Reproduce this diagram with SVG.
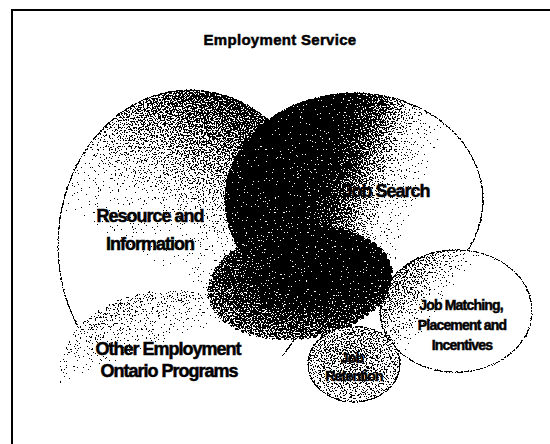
<svg xmlns="http://www.w3.org/2000/svg" width="550" height="444" viewBox="0 0 550 444">
  <defs>
    <style>
      .lbl { font-family: "Liberation Sans", Arial, sans-serif; font-weight: bold; fill: #000; stroke: #000; stroke-width: 0.5px; text-anchor: middle; }
      .big { font-size: 18px; letter-spacing: -1px; }
      .small { font-size: 14px; letter-spacing: -0.8px; }
      .edge { fill: none; stroke: #222; stroke-width: 1.2; }
    </style>
    <!-- shaded fills for the service areas -->
    <linearGradient id="gRes" x1="0.62" y1="0" x2="0.35" y2="0.55">
      <stop offset="0" stop-color="#404040"/>
      <stop offset="0.4" stop-color="#999"/>
      <stop offset="0.75" stop-color="#f4f4f4"/>
      <stop offset="1" stop-color="#fff"/>
    </linearGradient>
    <linearGradient id="gJob" x1="0" y1="0.3" x2="1" y2="0.6">
      <stop offset="0" stop-color="#000"/>
      <stop offset="0.36" stop-color="#000"/>
      <stop offset="0.5" stop-color="#666"/>
      <stop offset="0.64" stop-color="#e4e4e4"/>
      <stop offset="0.74" stop-color="#fff"/>
    </linearGradient>
    <radialGradient id="gCore" cx="0.68" cy="0.3" r="0.75">
      <stop offset="0" stop-color="#000"/>
      <stop offset="0.45" stop-color="#000"/>
      <stop offset="1" stop-color="#6a6a6a"/>
    </radialGradient>
    <linearGradient id="gMatch" x1="0" y1="0" x2="1" y2="0.6">
      <stop offset="0" stop-color="#555"/>
      <stop offset="0.3" stop-color="#aaa"/>
      <stop offset="0.5" stop-color="#fff"/>
    </linearGradient>
    <radialGradient id="gRet" cx="0.5" cy="0.3" r="0.7">
      <stop offset="0" stop-color="#8a8a8a"/>
      <stop offset="1" stop-color="#b5b5b5"/>
    </radialGradient>
    <linearGradient id="gOther" x1="0.2" y1="0" x2="0.55" y2="0.7">
      <stop offset="0" stop-color="#a0a0a0"/>
      <stop offset="0.3" stop-color="#d4d4d4"/>
      <stop offset="0.5" stop-color="#fff"/>
    </linearGradient>
    <!-- noise dither: turns grey shading into black/white stipple -->
    <filter id="stipple" filterUnits="userSpaceOnUse" x="40" y="80" width="505" height="340" color-interpolation-filters="sRGB">
      <feTurbulence type="fractalNoise" baseFrequency="0.65" numOctaves="2" seed="7" result="raw"/>
      <feColorMatrix in="raw" type="matrix" values="-2.2 0 0 0 1.6  -2.2 0 0 0 1.6  -2.2 0 0 0 1.6  0 0 0 0 1" result="inv"/>
      <feComposite in="SourceGraphic" in2="inv" operator="arithmetic" k1="0" k2="1" k3="1" k4="-0.5" result="sum"/>
      <feComponentTransfer in="sum">
        <feFuncR type="discrete" tableValues="0 1"/>
        <feFuncG type="discrete" tableValues="0 1"/>
        <feFuncB type="discrete" tableValues="0 1"/>
        <feFuncA type="discrete" tableValues="1 1"/>
      </feComponentTransfer>
    </filter>
  </defs>

  <rect width="550" height="444" fill="#fff"/>

  <!-- page frame -->
  <path d="M12 444 V10 H550" fill="none" stroke="#000" stroke-width="2"/>

  <!-- shaded areas, stippled as one layer -->
  <g id="areas" filter="url(#stipple)">
    <rect x="40" y="80" width="505" height="340" fill="#fff"/>
    <g id="resource">
      <ellipse cx="190" cy="245" rx="132" ry="155" fill="url(#gRes)"/>
      <ellipse class="edge" cx="190" cy="245" rx="132" ry="155" stroke="#666" stroke-width="0.7"/>
    </g>
    <g id="other">
      <ellipse cx="172" cy="378" rx="114" ry="88" fill="url(#gOther)"/>
    </g>
    <g id="jobsearch">
      <ellipse cx="354" cy="200" rx="129" ry="107" fill="url(#gJob)"/>
      <ellipse class="edge" cx="354" cy="200" rx="129" ry="107"/>
    </g>
    <g id="matching">
      <ellipse cx="456" cy="311" rx="76" ry="61" fill="url(#gMatch)"/>
      <ellipse class="edge" cx="456" cy="311" rx="76" ry="61"/>
    </g>
    <g id="core">
      <ellipse cx="300" cy="283" rx="90" ry="53" transform="rotate(-8 300 283)" fill="url(#gCore)" stroke="url(#gCore)" stroke-width="7" stroke-linecap="round" stroke-dasharray="0.1 7"/>
    </g>
    <g id="retention">
      <ellipse cx="354" cy="364" rx="46" ry="38" fill="url(#gRet)"/>
      <ellipse class="edge" cx="354" cy="364" rx="46" ry="38"/>
    </g>
  </g>

  <!-- labels -->
  <g id="labels">
    <text class="lbl" x="280" y="45" font-size="15" letter-spacing="0.3">Employment Service</text>
    <text class="lbl big" x="150" y="222">Resource and</text>
    <text class="lbl big" x="150" y="250">Information</text>
    <text class="lbl big" x="386" y="197">Job Search</text>
    <text class="lbl big" x="168" y="355">Other Employment</text>
    <text class="lbl big" x="169" y="377">Ontario Programs</text>
    <text class="lbl small" x="461" y="310">Job Matching,</text>
    <text class="lbl small" x="462" y="330">Placement and</text>
    <text class="lbl small" x="462" y="350">Incentives</text>
    <text class="lbl small" x="352" y="363">Job</text>
    <text class="lbl small" x="354" y="381">Retention</text>
  </g>
</svg>
